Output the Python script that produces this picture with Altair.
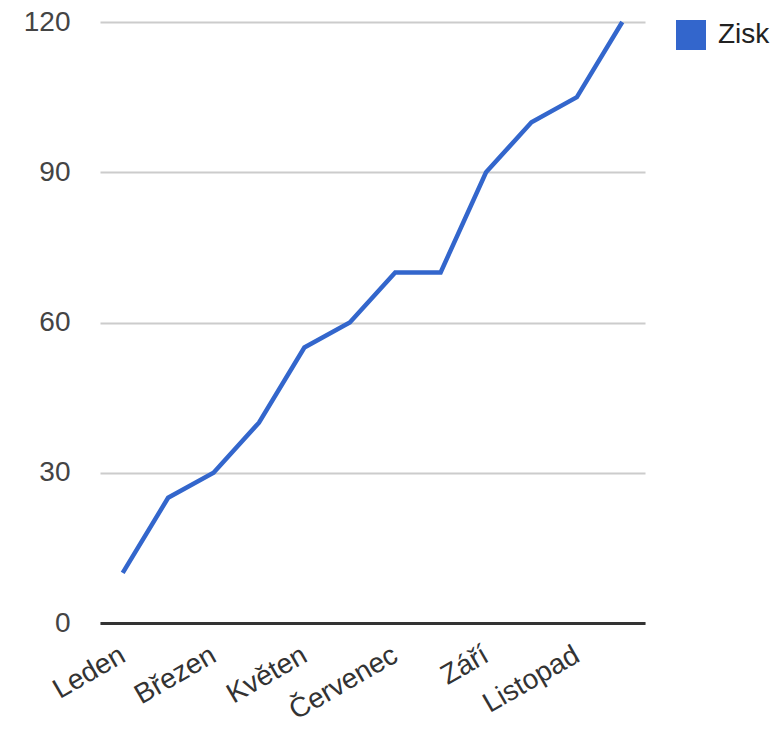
import altair as alt
import pandas as pd

months = ["Leden", "Únor", "Březen", "Duben", "Květen", "Červen",
          "Červenec", "Srpen", "Září", "Říjen", "Listopad", "Prosinec"]
zisk = [10, 25, 30, 40, 55, 60, 70, 70, 90, 100, 105, 120]
shown_labels = ["Leden", "Březen", "Květen", "Červenec", "Září", "Listopad"]
y_ticks = [0, 30, 60, 90, 120]
series_name = "Zisk"

df = pd.DataFrame({"Měsíc": months, "Hodnota": zisk, "Řada": [series_name] * len(months)})

FONT = "Liberation Sans"

chart = alt.Chart(df).mark_line(strokeWidth=4.5).encode(
    x=alt.X("Měsíc:N", sort=months,
            scale=alt.Scale(type="point", padding=0.5),
            axis=alt.Axis(values=shown_labels, title=None, labelAngle=-30,
                          labelAlign="right", labelBaseline="middle",
                          labelPadding=30, ticks=False, grid=False,
                          domainColor="#333333", domainWidth=3,
                          labelFontSize=28, labelFont=FONT, labelColor="#333333")),
    y=alt.Y("Hodnota:Q", scale=alt.Scale(domain=[0, 120], nice=False),
            axis=alt.Axis(values=y_ticks, title=None, ticks=False, domain=False,
                          gridColor="#cccccc", gridWidth=2, labelPadding=30,
                          labelFontSize=28, labelFont=FONT, labelColor="#444444")),
    color=alt.Color("Řada:N", scale=alt.Scale(range=["#3366CC"]),
                    legend=alt.Legend(title=None, orient="none", legendX=576, legendY=-2,
                                      symbolType="square", symbolSize=900,
                                      symbolFillColor="#3366CC", symbolStrokeWidth=0,
                                      labelFontSize=28, labelFont=FONT, labelColor="#222222",
                                      labelOffset=12, padding=0)),
).properties(
    width=545, height=601,
    autosize=alt.AutoSizeParams(type="none"),
    padding={"left": 92, "top": 14, "right": 128, "bottom": 103},
).configure_view(stroke=None)

chart.save("out.html", embed_options={"renderer": "svg", "actions": False})
